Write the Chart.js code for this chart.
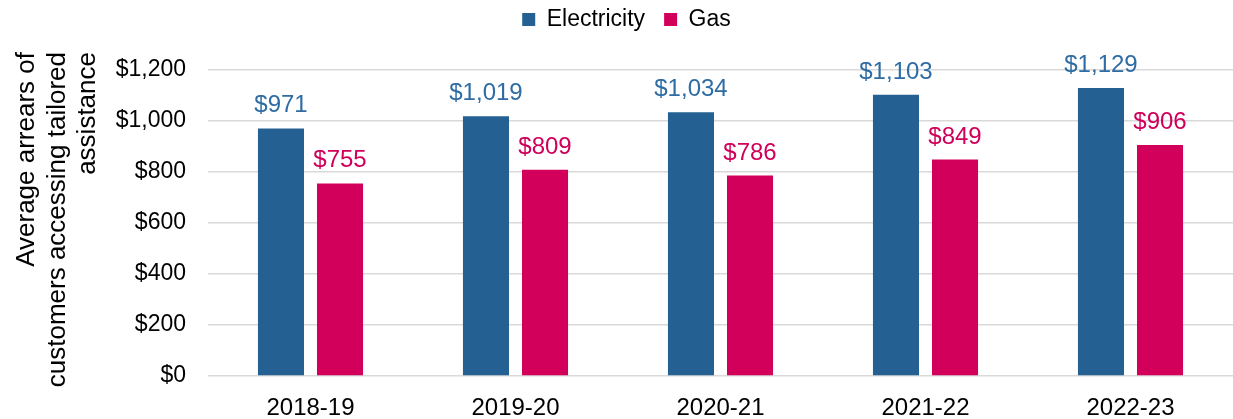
<!DOCTYPE html>
<html>
<head>
<meta charset="utf-8">
<script src="https://cdn.jsdelivr.net/npm/chart.js@4/dist/chart.umd.min.js"></script>
<style>
  html, body { margin: 0; padding: 0; background: #fff; }
  #wrap { width: 1233px; height: 419px; position: relative; }
</style>
</head>
<body>
<div id="wrap"><canvas id="chart"></canvas></div>
<script>
// ── Data ──
const years       = ['2018-19', '2019-20', '2020-21', '2021-22', '2022-23'];
const electricity = [971, 1019, 1034, 1103, 1129];
const gas         = [755, 809, 786, 849, 906];
const yTicks      = [0, 200, 400, 600, 800, 1000, 1200];
const yTitle      = ['Average arrears of', 'customers accessing tailored', 'assistance'];

const ELEC = '#246192';
const GAS  = '#D2005A';
const ELEC_LABEL = '#2E6CA3';
const GAS_LABEL  = '#D0005A';
const FONT = '"Liberation Sans", Arial, sans-serif';

const money = v => '$' + Number(v).toLocaleString('en-US');

// ── Value labels above bars ──
const barLabels = {
  id: 'barLabels',
  afterDatasetsDraw(chart) {
    const ctx = chart.ctx;
    ctx.save();
    ctx.font = '24px ' + FONT;
    ctx.textAlign = 'center';
    ctx.textBaseline = 'alphabetic';
    chart.data.datasets.forEach((ds, i) => {
      ctx.fillStyle = i === 0 ? ELEC_LABEL : GAS_LABEL;
      chart.getDatasetMeta(i).data.forEach((bar, j) => {
        ctx.fillText(money(ds.data[j]), bar.x, bar.y - 16);
      });
    });
    ctx.restore();
  }
};

// ── Rotated y-axis title (lines end-aligned at the top) ──
const yTitlePlugin = {
  id: 'yTitlePlugin',
  afterDraw(chart) {
    const ctx = chart.ctx;
    const xs  = [27, 58, 88];
    ctx.save();
    ctx.font = '26px ' + FONT;
    ctx.fillStyle = '#000';
    ctx.textAlign = 'right';
    ctx.textBaseline = 'middle';
    yTitle.forEach((line, i) => {
      ctx.save();
      ctx.translate(xs[i], 52);
      ctx.rotate(-Math.PI / 2);
      ctx.fillText(line, 0, 0);
      ctx.restore();
    });
    ctx.restore();
  }
};

// ── Legend takes the band above the plot, nudged into place ──
const legendGap = {
  id: 'legendGap',
  beforeInit(chart) {
    const fit = chart.legend.fit;
    chart.legend.fit = function () {
      fit.bind(chart.legend)();
      this.height = 70;
    };
  },
  afterLayout(chart) {
    chart.legend.left += 20;
    chart.legend.top  -= 11;
  }
};

Chart.defaults.font.family = FONT;
Chart.defaults.color = '#000';

new Chart(document.getElementById('chart').getContext('2d'), {
  type: 'bar',
  data: {
    labels: years,
    datasets: [
      { label: 'Electricity', data: electricity, backgroundColor: ELEC,
        categoryPercentage: 0.576, barPercentage: 0.78 },
      { label: 'Gas', data: gas, backgroundColor: GAS,
        categoryPercentage: 0.576, barPercentage: 0.78 }
    ]
  },
  options: {
    responsive: true,
    maintainAspectRatio: false,
    animation: false,
    layout: { padding: 0 },
    plugins: {
      legend: {
        position: 'top',
        labels: { font: { size: 23 }, boxWidth: 13, boxHeight: 13, padding: 19, color: '#000' }
      },
      tooltip: { enabled: false }
    },
    scales: {
      x: {
        grid: { display: false },
        border: { display: false },
        ticks: { font: { size: 24 }, color: '#000', padding: 10 },
        afterFit(axis) { axis.height = 43; }
      },
      y: {
        min: 0,
        max: 1200,
        afterBuildTicks(axis) { axis.ticks = yTicks.map(v => ({ value: v })); },
        afterFit(axis) { axis.width = 208; },
        grid: { color: '#d9d9d9', lineWidth: 1.5, drawTicks: false },
        border: { display: false },
        ticks: { font: { size: 23 }, color: '#000', padding: 22, callback: v => money(v) }
      }
    }
  },
  plugins: [barLabels, yTitlePlugin, legendGap]
});
</script>
</body>
</html>
